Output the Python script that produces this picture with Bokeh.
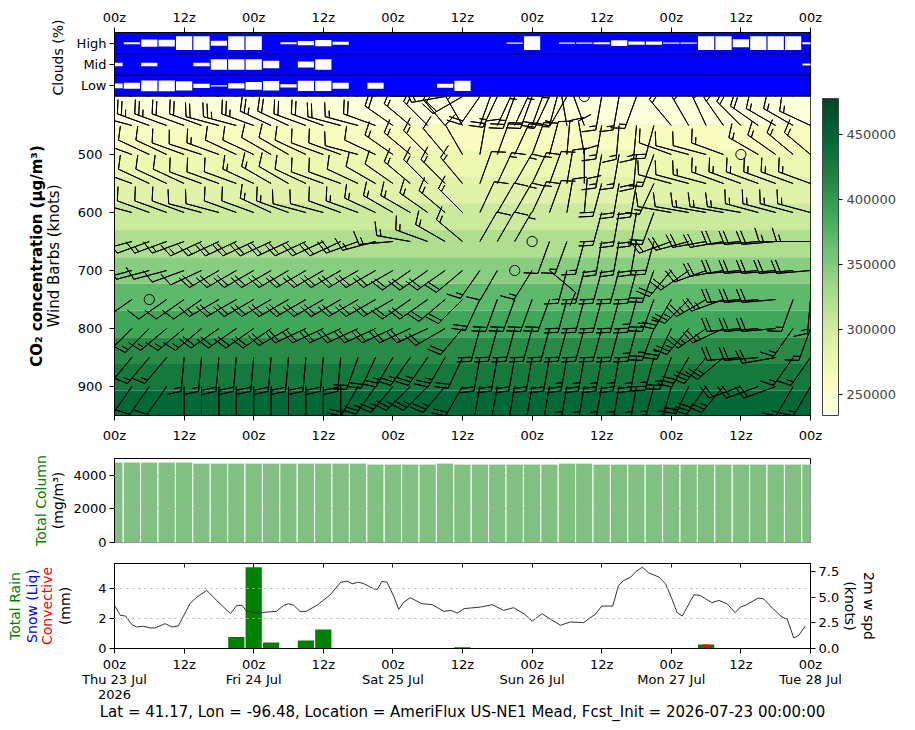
import math
from bokeh.plotting import figure
from bokeh.layouts import column
from bokeh.models import (Range1d, LinearAxis, FixedTicker, ColorBar, LinearColorMapper,
                          Title, ColumnDataSource, Grid, Span, PrintfTickFormatter)
from bokeh.embed import file_html
from bokeh.resources import INLINE

FONT = "DejaVu Sans"

# ---------------- data ----------------
hours = list(range(0, 121, 3))          # 3-hourly forecast times (h since init)
x_ticks = list(range(0, 121, 12))
hour_labels = {0: "00z", 12: "12z", 24: "00z", 36: "12z", 48: "00z", 60: "12z",
               72: "00z", 84: "12z", 96: "00z", 108: "12z", 120: "00z"}
day_ticks = [0, 24, 48, 72, 96, 120]
day_labels = {0: "Thu 23 Jul", 24: "Fri 24 Jul", 48: "Sat 25 Jul", 72: "Sun 26 Jul",
              96: "Mon 27 Jul", 120: "Tue 28 Jul"}
year_labels = {0: "2026"}

cloud_high = [0, 15, 54, 49, 100, 100, 37, 100, 100, 0, 15, 32, 46, 22, 0, 0, 0, 0, 0, 0, 0,
              0, 0, 8, 100, 0, 8, 8, 15, 43, 24, 24, 8, 8, 100, 100, 58, 100, 100, 100, 15]
cloud_mid = [27, 0, 27, 0, 0, 27, 76, 76, 76, 56, 0, 44, 76, 0, 0, 0, 0, 0, 0, 0, 0,
             0, 0, 0, 0, 0, 0, 0, 0, 0, 0, 0, 0, 0, 0, 0, 0, 0, 0, 0, 15]
cloud_low = [34, 44, 78, 78, 68, 32, 10, 39, 56, 70, 24, 76, 76, 44, 0, 44, 0, 0, 0, 29, 76,
             0, 0, 0, 0, 0, 0, 0, 0, 0, 0, 0, 0, 0, 0, 0, 0, 0, 0, 0, 0]

# CO2 concentration bands (hPa edges) and values (ug/m3)
co2_edges = [400, 447, 492, 538, 584, 630, 677, 723, 769, 815, 861, 907, 953]
co2_values = [241000, 261000, 275000, 288000, 305000, 324000, 346000, 371000,
              390000, 412000, 429000, 446000]

# wind barbs: levels (hPa), direction (deg from) and speed (knots) per level, 3-hourly
levels = [400, 450, 500, 550, 600, 650, 700, 750, 800, 850, 900, 950]
dir_400 = [280,285,285,290,290,285,285,290,290,290,295,295,290,290,285,280,280,275,270,260,
           240,215,205,200,200,205,210,230, 190,190,200,300, 315,320,325,320,315,310,305,300,300]
spd_400 = [25,25,30,30,25,25,25,30,30,30,25,25,25,20,20,20,20,20,20,20,
           20,20,25,25,20,20,15,0, 15,15,15,20, 20,20,25,25,25,20,20,20,20]
dir_450 = [285,285,290,290,290,290,285,285,290,295,295,290,290,285,285,290,305,310,315,320,330,
           20,25,25,20,15,350,340, 190,185,185,195, 320,330,335,325,315,305,300,300,295]
spd_450 = [20,20,25,25,20,20,20,25,25,25,20,20,20,20,15,20,20,15,15,15,15,
           10,15,15,15,10,10,10, 15,15,15,20, 20,20,20,20,20,20,15,15,15]
dir_500 = [290,290,295,295,290,288,290,295,295,300,300,295,290,290,285,295,305,310,315,320,330,
           10,20,25,20,15,5,350, 190,190,185,200, 290,285,285,290,0,300,305,310,310]
spd_500 = [10,10,10,10,10,10,15,10,10,10,10,10,10,10,10,10,15,15,15,10,10,
           10,10,15,15,10,10,10, 15,15,20,15, 10,10,10,15,0,15,15,15,15]
dir_550 = [290,290,295,295,295,290,290,290,295,300,300,295,290,290,295,300,305,310,315,315,320,
           20,25,30,25,20,10,360, 195,190,190,205, 285,285,285,290,290,290,290,290,290]
spd_550 = [10,10,10,10,10,10,10,10,15,15,10,10,10,10,10,10,10,15,15,15,15,
           10,15,15,15,10,10,10, 20,20,20,15, 10,10,15,15,15,15,15,15,15]
dir_600 = [285,285,290,290,290,285,285,290,290,295,290,285,285,290,290,295,300,300,305,310,315,
           25,30,30,25,20,10,5, 195,190,190,200, 280,280,280,280,280,285,285,285,285]
spd_600 = [10,10,10,10,10,10,10,10,10,15,15,10,10,10,15,15,15,15,15,15,15,
           10,10,15,15,10,10,10, 20,20,20,20, 10,10,15,15,15,15,15,15,15]
dir_650 = [255,255,250,250,250,245,245,245,245,245,245,245,245,245,250,255,265,280,290,300,310,
           30,30,30,0,200,200,195, 190,190,190,195, 250,255,260,260,265,265,265,270,270]
spd_650 = [10,10,10,15,15,15,15,20,20,20,20,20,20,20,20,15,15,15,15,15,15,
           10,10,5,0,10,15,15, 20,20,20,20, 20,20,20,20,20,20,20,15,15]
dir_700 = [255,255,255,255,250,245,240,240,240,240,240,240,240,240,240,240,240,235,235,235,230,
           215,210,0,212,130,195,195, 195,195,195,200, 220,235,250,260,265,265,265,265,265]
spd_700 = [10,10,10,10,10,10,20,20,20,20,20,20,20,20,20,20,20,20,20,20,20,
           15,10,0,15,10,15,20, 20,20,20,20, 20,20,20,20,20,20,20,20,20]
dir_750 = [235,235,0,235,235,235,240,240,240,240,240,240,240,240,240,240,240,235,235,230,225,
           205,200,200,200,200,195,195, 195,195,195,200, 210,225,240,250,265,265,265,200,185]
spd_750 = [10,10,0,10,10,10,15,20,20,20,20,20,20,20,20,20,20,20,20,20,20,
           20,20,20,20,20,20,20, 20,20,25,25, 25,25,25,25,20,20,20,15,15]
dir_800 = [225,225,225,230,230,230,235,235,235,235,240,245,245,245,245,245,245,245,245,240,220,
           195,195,195,195,195,195,195, 195,195,195,200, 205,220,235,245,265,265,265,215,200]
spd_800 = [10,10,15,15,15,15,20,20,20,20,20,20,20,20,20,20,20,20,20,20,20,
           20,20,20,20,20,20,20, 20,20,25,25, 25,25,25,25,20,20,20,15,15]
dir_850 = [220,220,220,220,185,185,185,185,185,185,185,185,185,185,200,205,210,215,215,210,205,
           190,190,190,190,190,190,190, 190,190,190,195, 200,210,220,230,265,265,260,215,215]
spd_850 = [10,10,15,15,15,15,20,20,20,20,20,20,20,20,20,20,25,25,25,25,20,
           20,20,20,20,20,25,25, 25,25,25,25, 25,30,30,25,20,20,20,15,15]
dir_900 = [215,215,215,215,180,180,180,180,180,180,180,180,180,180,210,215,220,225,225,220,210,
           190,190,190,190,190,190,190, 190,190,190,195, 195,205,215,220,250,250,250,210,210]
spd_900 = [10,10,10,10,15,15,15,15,20,20,20,20,20,20,20,25,25,25,25,25,20,
           20,20,20,20,20,25,25, 25,25,25,25, 25,30,30,25,20,20,20,15,15]
dir_950 = [205,205,205,205,175,175,175,175,175,175,175,175,175,175,210,215,220,220,220,215,205,
           185,185,185,185,185,185,185, 185,185,185,190, 190,195,200,205,230,230,230,200,200]
spd_950 = [10,10,10,10,15,15,15,15,15,15,15,15,15,15,20,20,25,25,25,25,20,
           20,20,20,20,20,20,20, 20,20,20,20, 25,25,25,25,15,20,20,15,15]
wind_dir = [dir_400, dir_450, dir_500, dir_550, dir_600, dir_650, dir_700, dir_750,
            dir_800, dir_850, dir_900, dir_950]
wind_spd = [spd_400, spd_450, spd_500, spd_550, spd_600, spd_650, spd_700, spd_750,
            spd_800, spd_850, spd_900, spd_950]

# total column (mg/m3), 3-hourly
total_column = [4785, 4785, 4785, 4785, 4785, 4725, 4725, 4725, 4725, 4725, 4725, 4725, 4725,
                4725, 4725, 4667, 4667, 4667, 4667, 4725, 4667, 4667, 4667, 4667, 4667, 4667,
                4725, 4725, 4667, 4667, 4667, 4667, 4667, 4667, 4667, 4667, 4667, 4667, 4667,
                4667, 4667]

# precipitation (mm), 3-hourly
rain_total = [0, 0, 0, 0, 0, 0, 0, 0.76, 5.42, 0.40, 0, 0.53, 1.27, 0, 0, 0, 0, 0, 0, 0, 0.09,
              0, 0, 0, 0, 0, 0, 0, 0, 0, 0, 0, 0, 0, 0.27, 0, 0, 0, 0, 0, 0]
snow_liq = [0] * 41
rain_conv = [0, 0, 0, 0, 0, 0, 0, 0, 0, 0, 0, 0, 0, 0, 0, 0, 0, 0, 0, 0, 0,
             0, 0, 0, 0, 0, 0, 0, 0, 0, 0, 0, 0, 0, 0.27, 0, 0, 0, 0, 0, 0]

# 2 m wind speed (knots)
wspd_t = [0, 1, 1.9, 3, 3.8, 5, 6.2, 7, 8.7, 9.9, 11, 13, 14.2, 15.9, 17.6, 20, 21.1, 22, 22.8,
          25.1, 26.3, 27.9, 29.2, 30, 30.9, 32, 33, 34.9, 37.2, 39, 40.1, 41, 42.1, 43, 44.7,
          45.3, 46.1, 47, 48.2, 49, 49.9, 51, 53, 54.8, 56.8, 58, 59.1, 60.3, 61.4, 63.1, 65.1,
          67.1, 68.8, 70.6, 72, 73.7, 75.2, 76.9, 78.6, 80.9, 81.8, 82.9, 84, 85.9, 86.9, 87.8,
          89, 89.9, 91, 92.1, 93.9, 95, 96.1, 97, 97.9, 99.9, 101, 101.9, 103, 104.2, 105.6,
          107, 107.9, 109, 111, 111.9, 113.4, 115.1, 116, 117.1, 118, 119.1]
wspd_v = [4.20, 3.23, 3.16, 2.32, 2.10, 2.16, 2.00, 2.00, 2.42, 2.10, 2.19, 4.36, 5.00, 5.65,
          4.68, 3.39, 4.20, 4.20, 3.61, 3.45, 3.55, 3.61, 4.20, 4.36, 4.20, 3.61, 3.61, 4.20,
          5.23, 6.45, 6.55, 6.30, 6.45, 6.30, 5.81, 5.75, 6.52, 6.45, 5.00, 3.81, 4.52, 4.94,
          4.36, 4.26, 3.61, 3.71, 3.45, 3.88, 3.94, 4.03, 4.26, 3.71, 3.97, 3.39, 2.65, 3.39,
          2.84, 2.26, 2.58, 2.52, 2.91, 3.32, 4.13, 4.13, 6.13, 6.62, 6.94, 7.49, 7.91, 7.36,
          6.94, 6.30, 4.84, 3.49, 3.16, 5.23, 5.16, 4.84, 4.46, 4.68, 4.36, 3.49, 4.03, 4.26,
          4.91, 4.84, 3.94, 3.06, 2.84, 1.03, 1.29, 2.19]

footer = "Lat = 41.17, Lon = -96.48, Location = AmeriFlux US-NE1 Mead, Fcst_Init = 2026-07-23 00:00:00"

# ---------------- helpers ----------------
FW_PX = 696
LEFT = 114


def style_axis(ax, ticks, overrides=None, standoff=5):
    ax.ticker = FixedTicker(ticks=ticks)
    if overrides is not None:
        ax.major_label_overrides = overrides
    ax.major_label_text_font = FONT
    ax.major_label_text_font_size = "13px"
    ax.major_label_text_color = "black"
    ax.major_label_standoff = standoff
    ax.axis_label_text_font = FONT
    ax.axis_label_text_font_size = "14px"
    ax.axis_label_text_font_style = "normal"
    ax.axis_label_text_color = "black"
    ax.axis_line_color = "black"
    ax.major_tick_line_color = "black"
    ax.major_tick_out = 5
    ax.major_tick_in = 0
    ax.minor_tick_line_color = None
    return ax


def label_axis(p, text, standoff, color="black", bold=False, size="14px"):
    # an empty axis used only to carry one coloured vertical label on the left
    ax = LinearAxis(ticker=FixedTicker(ticks=[]), axis_label=text,
                    axis_label_standoff=standoff, axis_label_text_font=FONT,
                    axis_label_text_font_size=size,
                    axis_label_text_font_style="bold" if bold else "normal",
                    axis_label_text_color=color, axis_line_color=None,
                    major_tick_line_color=None, minor_tick_line_color=None,
                    major_label_standoff=0, major_tick_out=0, major_tick_in=0)
    p.add_layout(ax, "left")


def make_fig(fh, yr, top, bottom, right):
    p = figure(frame_width=FW_PX, frame_height=fh, x_range=Range1d(0, 120), y_range=yr,
               output_backend="svg", toolbar_location=None, x_axis_location=None,
               y_axis_location=None, min_border_left=LEFT, min_border_right=right,
               min_border_top=top, min_border_bottom=bottom)
    p.xgrid.visible = False
    p.ygrid.visible = False
    p.outline_line_color = "black"
    p.outline_line_width = 1
    p.outline_line_alpha = 1
    p.border_fill_color = "white"
    return p


# ---------------- clouds panel ----------------
p1 = make_fig(64, Range1d(0, 3), 32, 0, 20)
p1.background_fill_color = "#0000ff"
BOX = 0.0064
rows = [(cloud_low, 0.5), (cloud_mid, 1.5), (cloud_high, 2.5)]
for arr, yc in rows:
    xs = [t for t, f in zip(hours, arr) if f > 0]
    hs = [f * BOX for f in arr if f > 0]
    p1.rect(x=xs, y=[yc] * len(xs), width=2.8, height=hs, fill_color="white",
            line_color=None)
for yl in (1, 2):
    p1.add_layout(Span(location=yl, dimension="width", line_color="black", line_width=1))
p1.add_layout(style_axis(LinearAxis(), [0.5, 1.5, 2.5],
                         {0.5: "Low", 1.5: "Mid", 2.5: "High"}, standoff=3), "left")
p1.add_layout(Title(text="Clouds (%)", align="left", offset=1, text_font=FONT,
                    text_font_size="14px", text_font_style="normal", text_color="black",
                    standoff=15), "left")
p1.add_layout(style_axis(LinearAxis(), x_ticks, hour_labels, standoff=3), "above")

# ---------------- main panel ----------------
p2 = make_fig(319, Range1d(950, 400), 0, 30, 105)
stops = ["#ffffe5", "#f7fcb9", "#d9f0a3", "#addd8e", "#78c679", "#41ab5d", "#238443",
         "#006837", "#004529"]


def interp_palette(st, n=256):
    rgb = [tuple(int(c[i:i + 2], 16) for i in (1, 3, 5)) for c in st]
    out = []
    for k in range(n):
        f = k / (n - 1) * (len(rgb) - 1)
        i = min(int(f), len(rgb) - 2)
        r = f - i
        c = [round(rgb[i][m] + (rgb[i + 1][m] - rgb[i][m]) * r) for m in range(3)]
        out.append("#%02x%02x%02x" % tuple(c))
    return out


mapper = LinearColorMapper(palette=interp_palette(stops), low=234000, high=478000)
src = ColumnDataSource(dict(top=co2_edges[:-1], bottom=co2_edges[1:], v=co2_values))
p2.quad(left=0, right=120, top="top", bottom="bottom", source=src,
        fill_color={"field": "v", "transform": mapper}, line_color=None)

# barbs (matplotlib geometry, pixels)
sx = FW_PX / 120.0
sy = 319 / 550.0
L = 34.0
SP = 0.125 * L
FH = 0.4 * L
FWD = 0.25 * L
bx, by, cx, cy = [], [], [], []
for lev, drow, srow in zip(levels, wind_dir, wind_spd):
    for t, d, s in zip(hours, drow, srow):
        mag = 5 * round(s / 5)
        nbarb = int((mag % 50) // 10)
        half = (mag % 50) % 10 >= 5
        if nbarb == 0 and not half:
            cx.append(t)
            cy.append(lev)
            continue
        u = -s * math.sin(math.radians(d))
        v = -s * math.cos(math.radians(d))
        pts = [(0.0, 0.0)]
        off = L
        for _ in range(nbarb):
            pts += [(0.0, off), (FH, off + FWD / 2), (0.0, off)]
            off -= SP
        if half:
            if off == L:
                pts.append((0.0, off))
                off -= 1.5 * SP
            pts += [(0.0, off), (FH / 2, off + FWD / 4), (0.0, off)]
        pts.append((0.0, 0.0))
        th = math.atan2(v, u) + math.pi / 2
        c, sn = math.cos(th), math.sin(th)
        xs_, ys_ = [], []
        for px, py in pts:
            rx = px * c - py * sn
            ry = px * sn + py * c
            xs_.append(t + rx / sx)
            ys_.append(lev - ry / sy)
        bx.append(xs_)
        by.append(ys_)
p2.multi_line(bx, by, line_color="black", line_width=1)
p2.scatter(cx, cy, marker="circle", size=10.2, fill_color=None, line_color="black",
           line_width=1)

ax = style_axis(LinearAxis(axis_label="Wind Barbs (knots)"), [500, 600, 700, 800, 900],
                standoff=7)
ax.axis_label_text_font_size = "15px"
ax.axis_label_standoff = 12
p2.add_layout(ax, "left")
label_axis(p2, "CO\u2082 concentration (\u03bcg/m\u00b3)", -4, bold=True, size="15px")
p2.add_layout(style_axis(LinearAxis(), x_ticks, hour_labels, standoff=7), "below")
cb = ColorBar(color_mapper=mapper, width=16, height=317, padding=0, margin=0,
              location=(12, 0),
              ticker=FixedTicker(ticks=[250000, 300000, 350000, 400000, 450000]),
              formatter=PrintfTickFormatter(format="%d"),
              major_label_text_font=FONT, major_label_text_font_size="13px",
              major_tick_line_color="black", major_tick_in=0, major_tick_out=4,
              bar_line_color="#444444", label_standoff=4, background_fill_alpha=0)
p2.add_layout(cb, "right")

# ---------------- total column panel ----------------
p3 = make_fig(84, Range1d(0, 5000), 13, 10, 20)
p3.add_layout(Grid(dimension=1, ticker=FixedTicker(ticks=[2000, 4000]),
                   grid_line_color="#b0b0b0", grid_line_dash="dotted", level="overlay"))
p3.vbar(x=hours, width=3, top=total_column, bottom=0, fill_color="#80c080",
        line_color="white", line_width=1)
ax = style_axis(LinearAxis(axis_label="(mg/m\u00b3)"), [0, 2000, 4000], standoff=3)
ax.axis_label_standoff = 4
p3.add_layout(ax, "left")
label_axis(p3, "Total Column", -1, color="green")

# ---------------- precipitation panel ----------------
p4 = make_fig(85, Range1d(0, 5.67), 11, 80, 60)
p4.extra_y_ranges = {"spd": Range1d(0, 8.27)}
p4.add_layout(Grid(dimension=1, ticker=FixedTicker(ticks=[2, 4]),
                   grid_line_color="#b0b0b0", grid_line_dash="dotted", level="overlay"))
p4.vbar(x=hours, width=2.8, top=rain_total, bottom=0, fill_color="green", line_color=None)
p4.vbar(x=hours, width=2.8, top=snow_liq, bottom=0, fill_color="blue", line_color=None)
p4.vbar(x=hours, width=1.2, top=rain_conv, bottom=0, fill_color="red", line_color=None)
p4.line(wspd_t, wspd_v, y_range_name="spd", line_color="#333333", line_width=1)
ax = style_axis(LinearAxis(axis_label="(mm)"), [0, 2, 4], standoff=3)
ax.axis_label_standoff = 22
p4.add_layout(ax, "left")
label_axis(p4, "Convective", 0, color="red")
label_axis(p4, "Snow (Liq)", -4, color="blue")
label_axis(p4, "Total Rain", -2, color="green")
rax = style_axis(LinearAxis(y_range_name="spd", axis_label="2m w spd\n(knots)"),
                 [0, 2.5, 5, 7.5], {0: "0.0", 2.5: "2.5", 5: "5.0", 7.5: "7.5"}, standoff=3)
rax.axis_label_standoff = 0
p4.add_layout(rax, "right")
p4.add_layout(style_axis(LinearAxis(), x_ticks, hour_labels, standoff=3), "below")
dax = style_axis(LinearAxis(), day_ticks, day_labels, standoff=-3)
dax.major_tick_out = 0
dax.axis_line_color = None
dax.major_tick_line_color = None
p4.add_layout(dax, "below")
yax = style_axis(LinearAxis(), [0], year_labels, standoff=0)
yax.major_tick_out = 0
yax.axis_line_color = None
yax.major_tick_line_color = None
p4.add_layout(yax, "below")
tax = style_axis(LinearAxis(), x_ticks, {k: "" for k in x_ticks})
tax.major_tick_in = 4
tax.major_tick_out = 0
p4.add_layout(tax, "above")
p4.add_layout(Title(text=footer, align="center", text_font=FONT, text_font_size="15px",
                    text_font_style="normal", text_color="black", standoff=-1), "below")

layout = column(p1, p2, p3, p4)
open("out.html", "w").write(file_html(layout, INLINE))
